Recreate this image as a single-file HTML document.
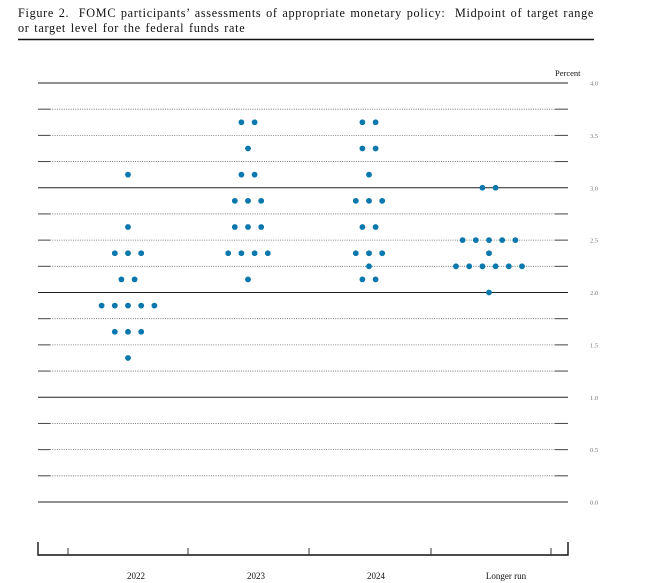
<!DOCTYPE html>
<html><head><meta charset="utf-8"><style>
body{margin:0;background:#fff;width:670px;height:583px;overflow:hidden}
#title{position:absolute;left:18px;top:6px;width:600px;font:12.2px/15px "Liberation Serif",serif;color:#111;letter-spacing:0.7px;word-spacing:1px;white-space:nowrap}
svg{position:absolute;left:0;top:0}
</style></head><body>
<div id="title">Figure 2.&nbsp; FOMC participants’ assessments of appropriate monetary policy:&nbsp; Midpoint of target range<br>or target level for the federal funds rate</div>
<svg id="chart" width="670" height="583"></svg>
<script>
const categories = ["2022","2023","2024","Longer run"];
const values2022 = [3.125,2.625,2.375,2.375,2.375,2.125,2.125,1.875,1.875,1.875,1.875,1.875,1.625,1.625,1.625,1.375];
const values2023 = [3.625,3.625,3.375,3.125,3.125,2.875,2.875,2.875,2.625,2.625,2.625,2.375,2.375,2.375,2.375,2.125];
const values2024 = [3.625,3.625,3.375,3.375,3.125,2.875,2.875,2.875,2.625,2.625,2.375,2.375,2.375,2.25,2.125,2.125];
const valuesLonger = [3.0,3.0,2.5,2.5,2.5,2.5,2.5,2.375,2.25,2.25,2.25,2.25,2.25,2.25,2.0];
const tickLabels = ["0.0","0.5","1.0","1.5","2.0","2.5","3.0","3.5","4.0"];

const NS="http://www.w3.org/2000/svg";
const svg=document.getElementById('chart');
const x0=38,x1=568,yTop=83,yBot=502;
const y=v=>yBot-(v/4)*(yBot-yTop);
const catCenters=[128,248,369,489];
const labelCenters=[136,256,376,506];
const dx=13.2;
function mk(t,a){const e=document.createElementNS(NS,t);for(const k in a)e.setAttribute(k,a[k]);svg.appendChild(e);return e;}

let r=mk('line',{x1:18,x2:594,y1:39.5,y2:39.5,stroke:'#111','stroke-width':1.5});



for(let i=0;i<=16;i++){
  const v=i*0.25, yy=y(v);
  if(i%4===0){
    const g=mk('line',{x1:x0,x2:x1,y1:yy,y2:yy,stroke:'#222','stroke-width':1.1});
    
    
  } else {
    const g=mk('line',{x1:x0+12,x2:x1-13,y1:yy,y2:yy,stroke:'#666','stroke-width':0.8,'stroke-dasharray':'1 1.3'});
    
    
    const a=mk('line',{x1:x0,x2:x0+12,y1:yy,y2:yy,stroke:'#444','stroke-width':1});
    
    
    const b=mk('line',{x1:x1-13,x2:x1,y1:yy,y2:yy,stroke:'#444','stroke-width':1});
    
    
  }
}
tickLabels.forEach((t,i)=>{
  const tx=mk('text',{x:590,y:y(i*0.5)+2.5,'font-size':6.5,'font-family':'Liberation Serif, serif',fill:'#777'});
  tx.textContent=t;
  
  
});
const pc=mk('text',{x:555,y:76,'font-size':8.5,'font-family':'Liberation Serif, serif',fill:'#111'});
pc.textContent='Percent';



[values2022,values2023,values2024,valuesLonger].forEach((vals,ci)=>{
  const groups={};
  vals.forEach(v=>{groups[v]=(groups[v]||0)+1;});
  Object.keys(groups).forEach(k=>{
    const n=groups[k], v=parseFloat(k);
    for(let j=0;j<n;j++){
      const cx=catCenters[ci]+(j-(n-1)/2)*dx;
      const c=mk('circle',{cx:cx,cy:y(v),r:2.9,fill:'#0a78ad'});
      
      
    }
  });
});

const ax=mk('polyline',{points:`${x0},542 ${x0},555 ${x1},555 ${x1},542`,fill:'none',stroke:'#111','stroke-width':1.4});


[68,188,309,431,551].forEach(tx=>{
  const t=mk('line',{x1:tx,x2:tx,y1:548,y2:555,stroke:'#333','stroke-width':1});
  
  
});
categories.forEach((c,i)=>{
  const t=mk('text',{x:labelCenters[i],y:579,'font-size':9,'font-family':'Liberation Serif, serif','text-anchor':'middle',fill:'#111'});
  t.textContent=c;
  
  
});
</script>
</body></html>
